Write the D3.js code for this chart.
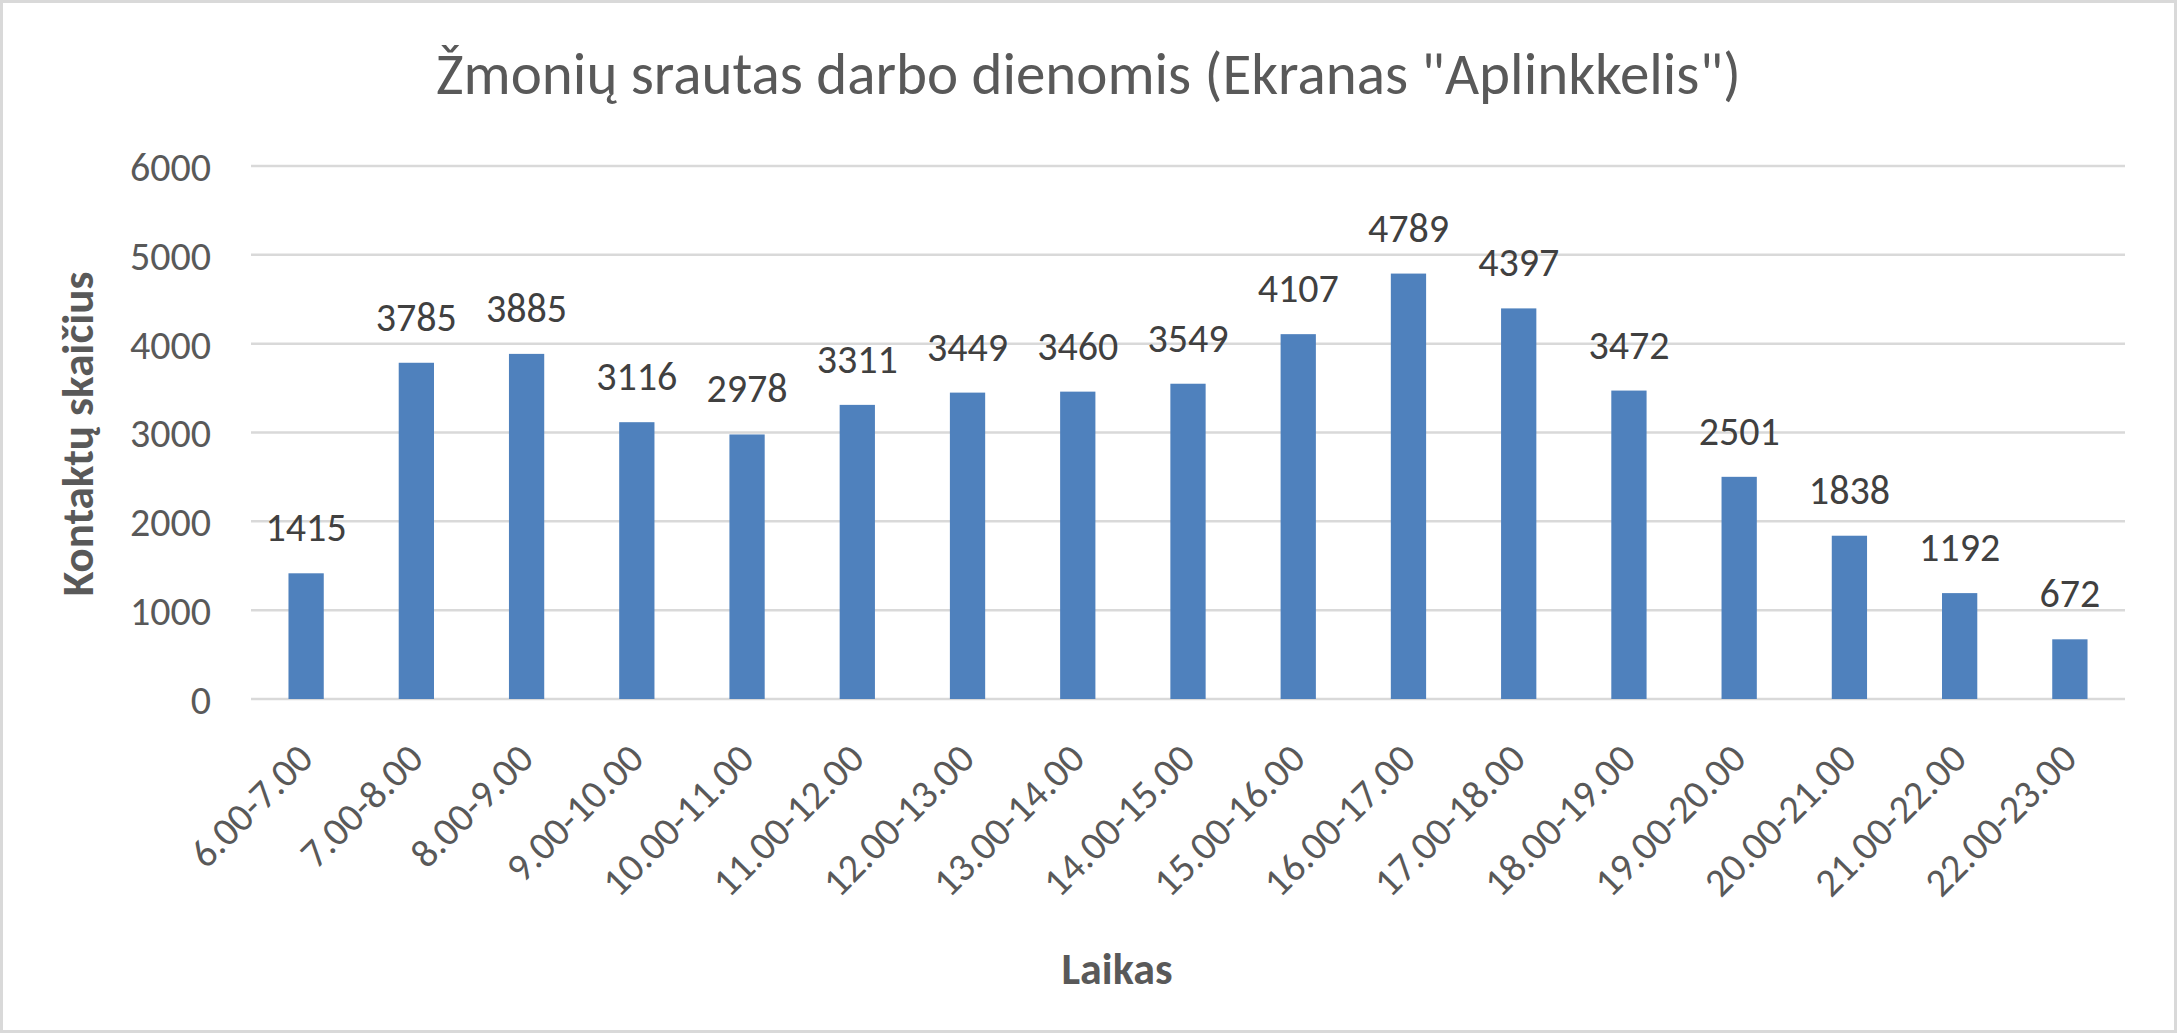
<!DOCTYPE html>
<html>
<head>
<meta charset="utf-8">
<script src="https://cdn.jsdelivr.net/npm/d3@7"></script>
<style>
html,body{margin:0;padding:0;background:#fff;}
svg{display:block;}
text{font-family:Carlito, Calibri, Lato, sans-serif;}
</style>
</head>
<body>
<svg id="chart" width="2177" height="1033"></svg>
<script>
const categories = ["6.00-7.00","7.00-8.00","8.00-9.00","9.00-10.00","10.00-11.00","11.00-12.00","12.00-13.00","13.00-14.00","14.00-15.00","15.00-16.00","16.00-17.00","17.00-18.00","18.00-19.00","19.00-20.00","20.00-21.00","21.00-22.00","22.00-23.00"];
const values = [1415,3785,3885,3116,2978,3311,3449,3460,3549,4107,4789,4397,3472,2501,1838,1192,672];
const yTicks = [0,1000,2000,3000,4000,5000,6000];
const title = "Žmonių srautas darbo dienomis (Ekranas \"Aplinkkelis\")";
const yTitle = "Kontaktų skaičius";
const xTitle = "Laikas";

const W = 2177, H = 1033;
const svg = d3.select("#chart");
const plot = {left: 251, right: 2125, top: 166, bottom: 699};
const FONT = "Carlito, Calibri, Lato, sans-serif";

svg.append("rect").attr("x",1.5).attr("y",1.5).attr("width",W-3).attr("height",H-3)
  .attr("fill","#fff").attr("stroke","#d9d9d9").attr("stroke-width",3);

const x = d3.scaleBand().domain(categories).range([plot.left, plot.right]).paddingInner(0.68).paddingOuter(0.34);
const y = d3.scaleLinear().domain([0,6000]).range([plot.bottom, plot.top]);

// gridlines
svg.append("g").selectAll("line").data(yTicks).join("line")
  .attr("x1",plot.left).attr("x2",plot.right)
  .attr("y1",d=>y(d)).attr("y2",d=>y(d))
  .attr("stroke","#d9d9d9").attr("stroke-width",2.5);

// y axis labels
const yAxis = d3.axisLeft(y).tickValues(yTicks).tickFormat(d3.format("d")).tickSize(0).tickPadding(0);
const gy = svg.append("g").attr("transform",`translate(211,0)`).call(yAxis);
gy.select(".domain").remove();
gy.selectAll("text").attr("font-size",40).attr("fill","#595959")
  .style("font-family",FONT).attr("dy","0.36em");

// bars
svg.append("g").selectAll("rect").data(values).join("rect")
  .attr("x",(d,i)=>x(categories[i]))
  .attr("width",x.bandwidth())
  .attr("y",d=>y(d))
  .attr("height",d=>y(0)-y(d))
  .attr("fill","#4F81BD");

// data labels
svg.append("g").selectAll("text").data(values).join("text")
  .attr("x",(d,i)=>x(categories[i])+x.bandwidth()/2)
  .attr("y",d=>y(d)-32)
  .attr("text-anchor","middle")
  .attr("font-size",40).attr("fill","#404040")
  .text(d=>d);

// x axis labels
const xAxis = d3.axisBottom(x).tickSize(0).tickPadding(0);
const gx = svg.append("g").attr("transform",`translate(0,${plot.bottom})`).call(xAxis);
gx.select(".domain").remove();
gx.selectAll("text")
  .attr("font-size",40).attr("fill","#595959")
  .style("font-family",FONT)
  .attr("text-anchor","end")
  .attr("y",0).attr("dy","0")
  .attr("transform","translate(9,62) rotate(-45)");

// title
svg.append("text").attr("x",W/2).attr("y",94).attr("text-anchor","middle")
  .attr("font-size",59).attr("fill","#595959").text(title);

// axis titles
svg.append("text").attr("transform",`translate(93,434) rotate(-90)`)
  .attr("text-anchor","middle").attr("font-size",45).attr("font-weight","bold")
  .attr("fill","#595959").text(yTitle);
svg.append("text").attr("x",1117).attr("y",984).attr("text-anchor","middle")
  .attr("font-size",44).attr("font-weight","bold").attr("fill","#595959").text(xTitle);
</script>
</body>
</html>
